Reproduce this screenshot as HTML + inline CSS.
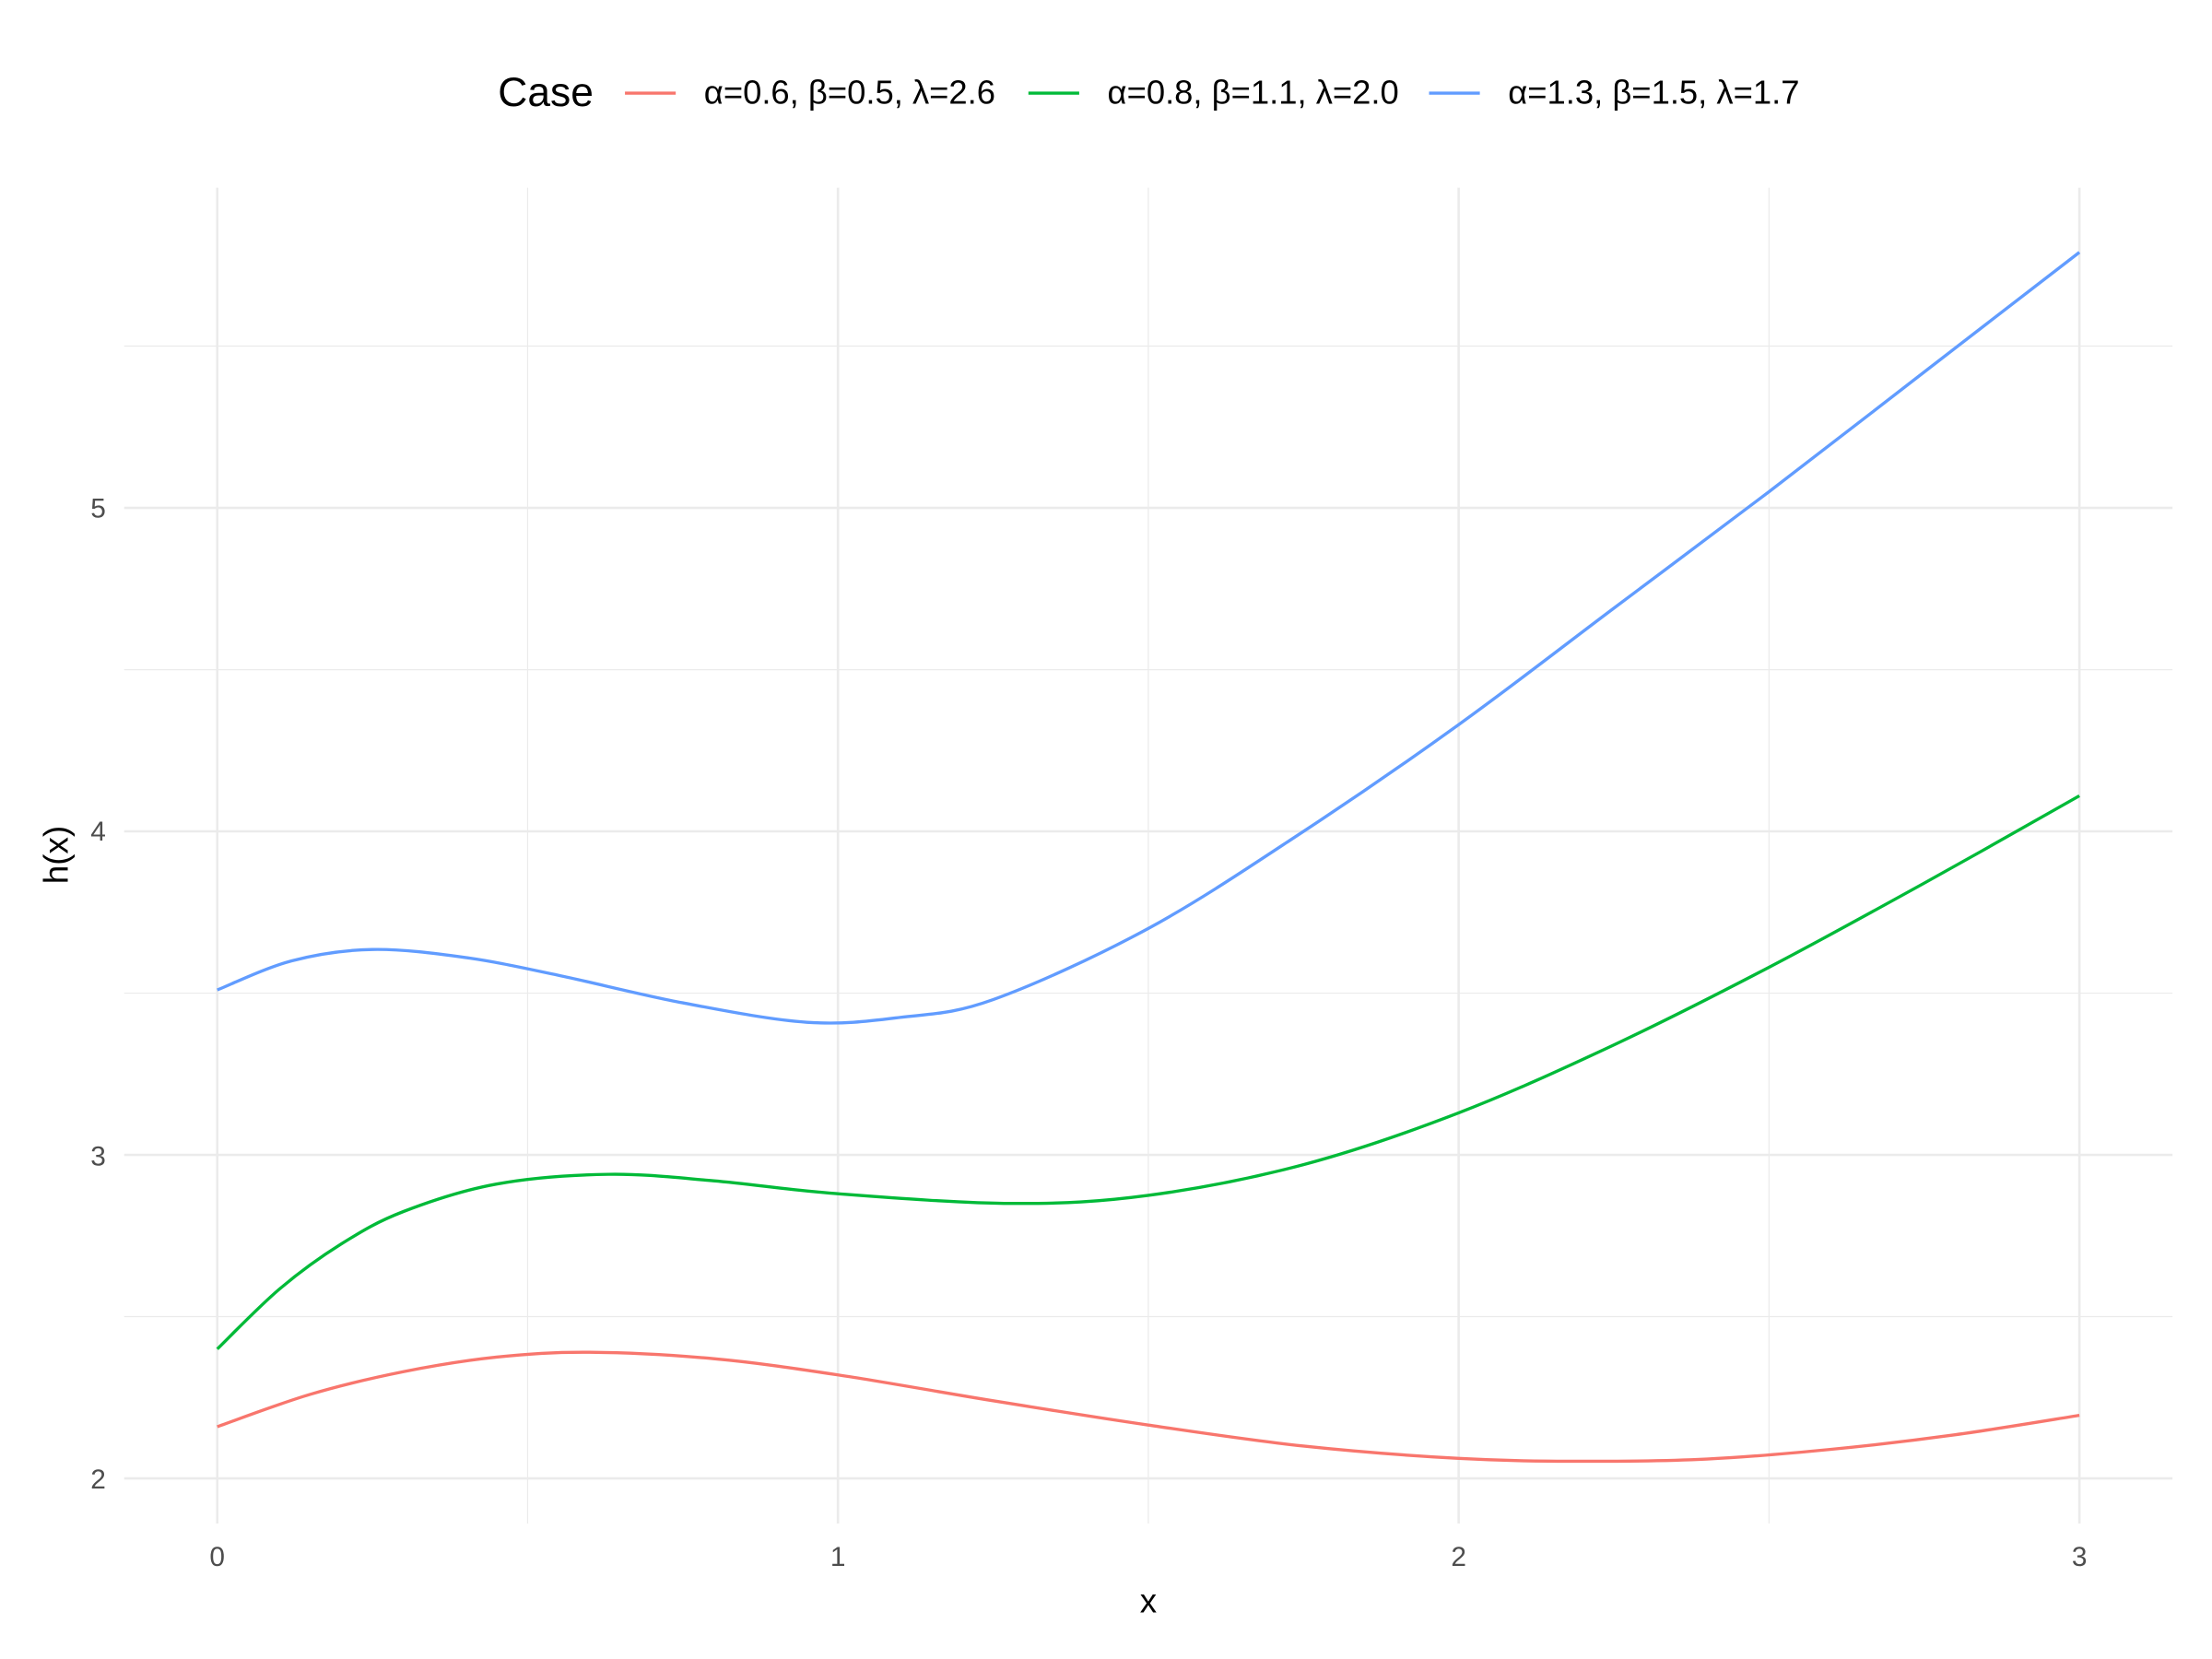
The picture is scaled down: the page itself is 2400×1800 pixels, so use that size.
<!DOCTYPE html>
<html><head><meta charset="utf-8"><style>html,body{margin:0;padding:0;background:#fff}svg{display:block}</style></head>
<body>
<svg id="s" width="2400" height="1800" viewBox="0 0 1568 1176" xmlns="http://www.w3.org/2000/svg" font-family="Liberation Sans, Arial, sans-serif">
<rect width="1568" height="1176" fill="#fff"/>
<g stroke="#ebebeb" stroke-width="0.8">
<line x1="88" x2="1540" y1="933.3" y2="933.3"/><line x1="88" x2="1540" y1="704" y2="704"/>
<line x1="88" x2="1540" y1="474.7" y2="474.7"/><line x1="88" x2="1540" y1="245.3" y2="245.3"/>
<line x1="374" x2="374" y1="133" y2="1080"/><line x1="814" x2="814" y1="133" y2="1080"/><line x1="1254" x2="1254" y1="133" y2="1080"/>
</g>
<g stroke="#ebebeb" stroke-width="1.7">
<line x1="88" x2="1540" y1="1048" y2="1048"/><line x1="88" x2="1540" y1="818.7" y2="818.7"/>
<line x1="88" x2="1540" y1="589.3" y2="589.3"/><line x1="88" x2="1540" y1="360" y2="360"/>
<line x1="154" x2="154" y1="133" y2="1080"/><line x1="594" x2="594" y1="133" y2="1080"/>
<line x1="1034" x2="1034" y1="133" y2="1080"/><line x1="1474" x2="1474" y1="133" y2="1080"/>
</g>
<g fill="#4d4d4d" font-size="19.5" text-anchor="end">
<text x="75" y="1055">2</text><text x="75" y="826">3</text><text x="75" y="596">4</text><text x="75" y="367">5</text>
</g>
<g fill="#4d4d4d" font-size="19.5" text-anchor="middle">
<text x="154" y="1110">0</text><text x="594" y="1110">1</text><text x="1034" y="1110">2</text><text x="1474" y="1110">3</text>
</g>
<text x="814" y="1143" font-size="24" text-anchor="middle">x</text>
<text transform="translate(48,606) rotate(-90)" font-size="24" text-anchor="middle">h(x)</text>
<text x="353" y="75" font-size="29">Case</text>
<line x1="443" x2="479" y1="66" y2="66" stroke="#F8766D" stroke-width="2.2"/>
<text x="499" y="73.5" font-size="23.8">α=0.6, β=0.5, λ=2.6</text>
<line x1="729" x2="765" y1="66" y2="66" stroke="#00BA38" stroke-width="2.2"/>
<text x="785" y="73.5" font-size="23.8">α=0.8, β=1.1, λ=2.0</text>
<line x1="1013" x2="1049" y1="66" y2="66" stroke="#619CFF" stroke-width="2.2"/>
<text x="1069" y="73.5" font-size="23.8">α=1.3, β=1.5, λ=1.7</text>
<path id="r" fill="none" stroke="#F8766D" stroke-width="2.2"/>
<path id="g" fill="none" stroke="#00BA38" stroke-width="2.2"/>
<path id="b" fill="none" stroke="#619CFF" stroke-width="2.2"/>
</svg>
<script>
function cr(p){var d="M"+p[0][0]+","+p[0][1];for(var i=0;i<p.length-1;i++){var a=p[i-1]||p[i],b=p[i],c=p[i+1],e=p[i+2]||c;d+=" C"+(b[0]+(c[0]-a[0])/6)+","+(b[1]+(c[1]-a[1])/6)+" "+(c[0]-(e[0]-b[0])/6)+","+(c[1]-(e[1]-b[1])/6)+" "+c[0]+","+c[1];}return d;}
function m(a){return a.map(function(q){return [154+q[0]*440,1048-(q[1]-2)*229.33];});}
document.getElementById("r").setAttribute("d",cr(m([[0,2.16],[0.15,2.26],[0.3,2.33],[0.45,2.375],[0.6,2.39],[0.8,2.37],[1,2.32],[1.25,2.24],[1.5,2.165],[1.75,2.10],[2,2.062],[2.2,2.053],[2.4,2.06],[2.6,2.09],[2.8,2.135],[3,2.195]])));
document.getElementById("g").setAttribute("d",cr(m([[0,2.40],[0.1,2.585],[0.2,2.725],[0.3,2.825],[0.45,2.91],[0.63,2.94],[0.8,2.92],[1,2.88],[1.28,2.85],[1.5,2.875],[1.75,2.97],[2,3.13],[2.25,3.34],[2.5,3.58],[2.75,3.84],[3,4.11]])));
document.getElementById("b").setAttribute("d",cr(m([[0,3.51],[0.12,3.6],[0.25,3.635],[0.4,3.61],[0.55,3.555],[0.75,3.47],[0.95,3.41],[1.1,3.425],[1.25,3.48],[1.5,3.70],[1.75,4.0],[2,4.33],[2.25,4.69],[2.5,5.05],[2.75,5.42],[3,5.79]])));
</script>
</body></html>
